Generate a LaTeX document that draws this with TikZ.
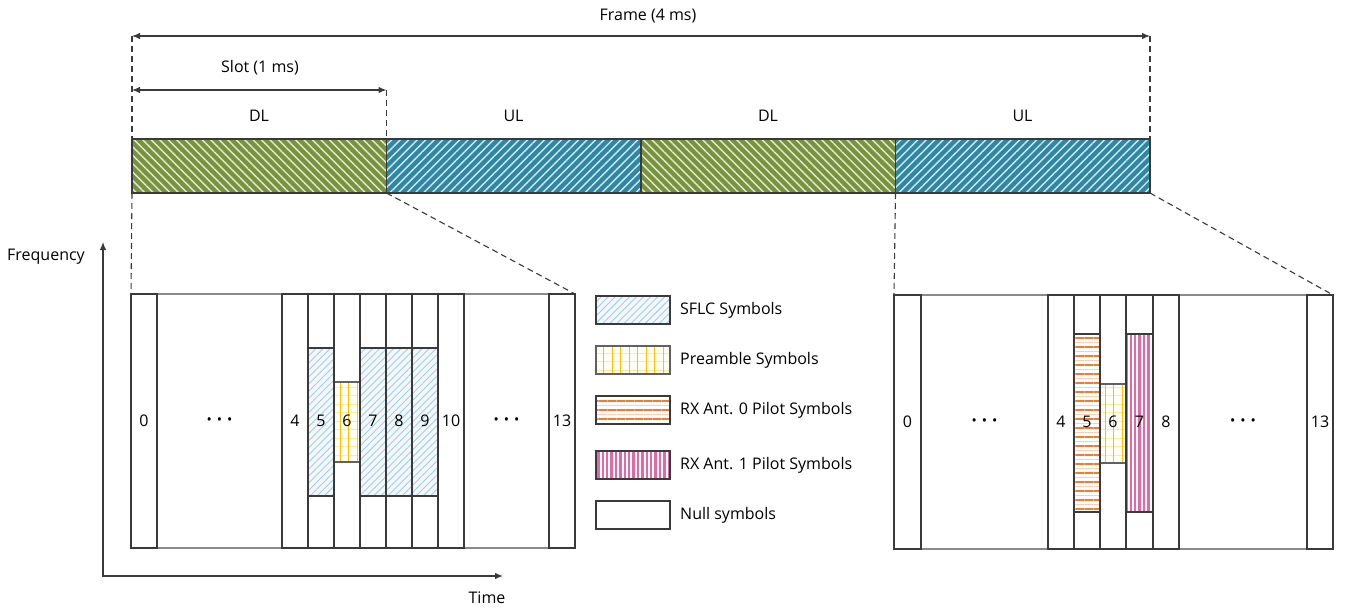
\documentclass[tikz,border=0pt]{standalone}
\usepackage{fontspec}
\setmainfont{Open Sans}
\usetikzlibrary{patterns.meta,arrows.meta}
\definecolor{barGreen}{HTML}{77933C}
\definecolor{barBlue}{HTML}{2E87A3}
\definecolor{sflcLine}{HTML}{9DD0F0}
\definecolor{sflcBg}{HTML}{F5F6F8}
\definecolor{preV}{HTML}{FFC000}
\definecolor{preH}{HTML}{FFE8A0}
\definecolor{preBg}{HTML}{FFFEF4}
\definecolor{oraD}{HTML}{EE7D31}
\definecolor{oraL}{HTML}{F9CDAE}
\definecolor{pinkS}{HTML}{E368A8}
\definecolor{edge}{HTML}{3A3A3A}
\definecolor{edgeL}{HTML}{8A8A8A}
\newcommand\mydots{{\fontsize{14}{14}\selectfont •\hspace{5pt}•\hspace{5pt}•}}
\begin{document}
\begin{tikzpicture}[x=1pt,y=-1pt,
  font=\fontsize{16}{19}\selectfont,
  seg/.style={draw=edge, line width=1.3pt, inner sep=0pt, outer sep=0pt, anchor=north west, minimum width=254.5, minimum height=54},
  dlseg/.style={seg, preaction={fill=barGreen}, pattern={Lines[angle=-45,distance=6pt,line width=1.4pt]}, pattern color=white!80!barGreen},
  ulseg/.style={seg, preaction={fill=barBlue}, pattern={Lines[angle=45,distance=6pt,line width=1.4pt]}, pattern color=white!80!barBlue},
  box/.style={inner sep=0pt, outer sep=0pt, anchor=north west},
  colbox/.style={box, draw=edge, line width=1.2pt, minimum height=254},
  dotbox/.style={box, draw=edgeL, line width=1.2pt, minimum height=254},
  sflc/.style={box, draw=edge, line width=1.2pt, preaction={fill=sflcBg}, pattern={Lines[angle=45,distance=5pt,line width=0.9pt]}, pattern color=sflcLine},
  pre/.style={box, draw=edge!80, line width=1.2pt, preaction={fill=preBg}, preaction={pattern={Lines[angle=0,distance=8.5pt,line width=0.8pt]}, pattern color=preH}, pattern={Lines[angle=90,distance=8.5pt,line width=0.9pt]}, pattern color=preV},
  rx0/.style={box, draw=edge, line width=1.2pt, preaction={fill=white}, preaction={pattern={Lines[angle=0,distance=9pt,yshift=4.5pt,line width=1.1pt]}, pattern color=oraL}, pattern={Lines[angle=0,distance=9pt,line width=1.4pt]}, pattern color=oraD},
  rx1/.style={box, draw=edge, line width=1.2pt, preaction={fill=white}, pattern={Lines[angle=90,distance=4.4pt,line width=2.3pt]}, pattern color=pinkS},
  nul/.style={box, draw=edge, line width=1.2pt, fill=white},
  dashln/.style={draw=edge, line width=1.1pt, dash pattern=on 6pt off 4pt},
  dimarrow/.style={draw=edge, line width=1.2pt, {Latex[length=8pt,width=6.5pt]}-{Latex[length=8pt,width=6.5pt]}},
  legtext/.style={anchor=west, inner sep=0pt}
]
\useasboundingbox (0,0) rectangle (1346,608);

% ---------- top frame bar ----------
\node[dlseg] (dl1) at (132,139) {};
\node[ulseg] (ul1) at (386.5,139) {};
\node[dlseg] (dl2) at (641,139) {};
\node[ulseg] (ul2) at (895.5,139) {};
\node (tdl1) at (259,116) {DL};
\node (tul1) at (513.5,116) {UL};
\node (tdl2) at (768,116) {DL};
\node (tul2) at (1022.5,116) {UL};

\coordinate (fL) at (132,36);
\coordinate (fR) at (1150,36);
\coordinate (sL) at (132,90);
\coordinate (sR) at (386.5,90);
\draw[dashln] (fL) -- (dl1.north west);
\draw[dashln] (sR) -- (dl1.north east);
\draw[dashln] (fR) -- (ul2.north east);
\draw[dimarrow] (fL) -- (fR);
\draw[dimarrow] (sL) -- (sR);
\node (frame) at (648,16) {Frame (4 ms)};
\node (slot) at (260,68) {Slot (1 ms)};

% ---------- left grid (DL slot) ----------
\node[sflc, minimum width=26, minimum height=148] (L5s) at (308,348) {};
\node[sflc, minimum width=26, minimum height=148] (L7s) at (360,348) {};
\node[sflc, minimum width=26, minimum height=148] (L8s) at (386,348) {};
\node[sflc, minimum width=26, minimum height=148] (L9s) at (412,348) {};
\node[pre, minimum width=26, minimum height=80] (L6p) at (334,382) {};
\node[dotbox, minimum width=125] (LdA) at (157,294) {\mydots};
\node[dotbox, minimum width=85] (LdB) at (464,294) {\mydots};
\node[colbox, minimum width=26] (L0) at (131,294) {0};
\node[colbox, minimum width=26] (L4) at (282,294) {4};
\node[colbox, minimum width=26] (L5) at (308,294) {5};
\node[colbox, minimum width=26] (L6) at (334,294) {6};
\node[colbox, minimum width=26] (L7) at (360,294) {7};
\node[colbox, minimum width=26] (L8) at (386,294) {8};
\node[colbox, minimum width=26] (L9) at (412,294) {9};
\node[colbox, minimum width=26] (L10) at (438,294) {10};
\node[colbox, minimum width=26] (L13) at (549,294) {13};
\draw[dashln] (dl1.south west) -- (L0.north west);
\draw[dashln] (dl1.south east) -- (L13.north east);

% ---------- right grid (UL slot) ----------
\node[rx0, minimum width=26, minimum height=178] (R5o) at (1074,334) {};
\node[rx1, minimum width=27, minimum height=178] (R7k) at (1126,334) {};
\node[pre, minimum width=26, minimum height=79] (R6p) at (1100,384) {};
\node[dotbox, minimum width=127] (RdA) at (921,295) {\mydots};
\node[dotbox, minimum width=128] (RdB) at (1179,295) {\mydots};
\node[colbox, minimum width=27] (R0) at (894,295) {0};
\node[colbox, minimum width=26] (R4) at (1048,295) {4};
\node[colbox, minimum width=26] (R5) at (1074,295) {5};
\node[colbox, minimum width=26] (R6) at (1100,295) {6};
\node[colbox, minimum width=27] (R7) at (1126,295) {7};
\node[colbox, minimum width=26] (R8) at (1153,295) {8};
\node[colbox, minimum width=26] (R13) at (1307,295) {13};
\draw[dashln] (ul2.south west) -- (R0.north west);
\draw[dashln] (ul2.south east) -- (R13.north east);

% ---------- legend ----------
\node[sflc, minimum width=74, minimum height=28] (k1) at (596,296) {};
\node[pre, minimum width=74, minimum height=28] (k2) at (596,346) {};
\node[rx0, minimum width=74, minimum height=28] (k3) at (596,396) {};
\node[rx1, minimum width=74, minimum height=28] (k4) at (596,451) {};
\node[nul, minimum width=74, minimum height=28] (k5) at (596,501) {};
\node[legtext] (k1t) at ([xshift=10pt]k1.east) {SFLC Symbols};
\node[legtext] (k2t) at ([xshift=10pt]k2.east) {Preamble Symbols};
\node[legtext] (k3t) at ([xshift=10pt]k3.east) {RX Ant. 0 Pilot Symbols};
\node[legtext] (k4t) at ([xshift=10pt]k4.east) {RX Ant. 1 Pilot Symbols};
\node[legtext] (k5t) at ([xshift=10pt]k5.east) {Null symbols};

% ---------- axes ----------
\coordinate (O) at (103,576);
\coordinate (fTop) at (103,242);
\coordinate (tEnd) at (503,576);
\draw[draw=edge, line width=1.2pt, {Latex[length=8pt,width=6.5pt]}-{Latex[length=8pt,width=6.5pt]}] (fTop) -- (O) -- (tEnd);
\node (freq) at (46,257) {Frequency};
\node (time) at (487,598) {Time};
\end{tikzpicture}
\end{document}
